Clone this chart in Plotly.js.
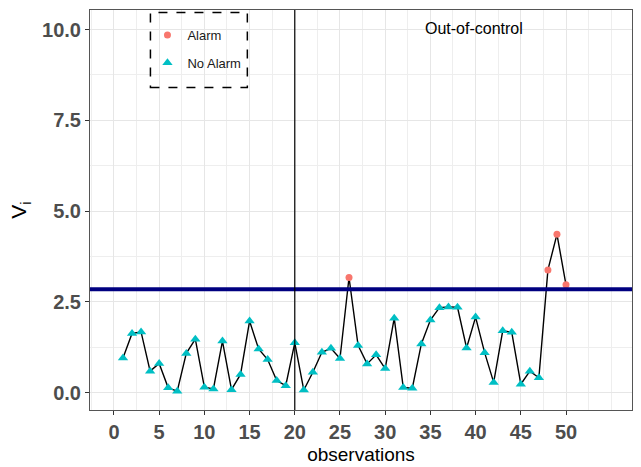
<!DOCTYPE html>
<html>
<head>
<meta charset="utf-8">
<script src="https://cdn.plot.ly/plotly-3.0.1.min.js"></script>
<style>html,body{margin:0;padding:0;background:#fff;}#chart{width:641px;height:467px;}</style>
</head>
<body>
<div id="chart"></div>
<script>
// Observation index
var observations = [1,2,3,4,5,6,7,8,9,10,11,12,13,14,15,16,17,18,19,20,
  21,22,23,24,25,26,27,28,29,30,31,32,33,34,35,36,37,38,39,40,
  41,42,43,44,45,46,47,48,49,50];
// Monitoring statistic V_i
var vValues = [0.95,1.63,1.67,0.59,0.80,0.13,0.04,1.08,1.47,0.15,
  0.10,1.42,0.08,0.50,1.97,1.20,0.91,0.33,0.19,1.37,
  0.07,0.56,1.11,1.22,0.94,3.17,1.30,0.79,1.04,0.66,
  2.05,0.14,0.12,1.34,2.00,2.34,2.36,2.35,1.23,2.08,
  1.10,0.28,1.70,1.66,0.23,0.59,0.41,3.38,4.36,2.97];
var controlLimit = 2.85;
var changePoint = 20;
var xTickVals = [0,5,10,15,20,25,30,35,40,45,50];
var yTickVals = [0,2.5,5,7.5,10];

var alarmX = [], alarmY = [], okX = [], okY = [];
for (var i = 0; i < observations.length; i++) {
  if (vValues[i] > controlLimit) { alarmX.push(observations[i]); alarmY.push(vValues[i]); }
  else { okX.push(observations[i]); okY.push(vValues[i]); }
}

var traces = [
  {x: observations, y: vValues, type: 'scatter', mode: 'lines',
   line: {color: '#000000', width: 1.4}, showlegend: false, hoverinfo: 'skip'},
  {x: alarmX, y: alarmY, type: 'scatter', mode: 'markers', name: 'Alarm',
   legendgroup: 'a', marker: {symbol: 'circle', size: 7, color: '#F8766D'}},
  {x: okX, y: okY, type: 'scatter', mode: 'markers', name: 'No Alarm',
   legendgroup: 'b', marker: {symbol: 'triangle-up', size: 9, color: '#00BFC4'}}
];

var tickFont = {family: 'Liberation Sans Narrow, Liberation Sans, Arial, sans-serif', size: 20, color: '#4d4d4d', weight: 'bold'};

var layout = {
  width: 641, height: 467,
  margin: {l: 90, r: 9, t: 10, b: 57},
  paper_bgcolor: '#ffffff', plot_bgcolor: '#ffffff',
  font: {family: 'Liberation Sans, Arial, sans-serif', color: '#000'},
  xaxis: {
    range: [-2.65, 57.3], tickvals: xTickVals, ticktext: xTickVals.map(String),
    showgrid: true, gridcolor: '#e6e6e6', gridwidth: 1,
    minor: {dtick: 2.5, tick0: 0, showgrid: true, gridcolor: '#eeeeee', gridwidth: 1, ticks: ''},
    zeroline: false, showline: true, mirror: true, linecolor: '#555555', linewidth: 1,
    ticks: 'outside', ticklen: 4, tickcolor: '#333333', tickwidth: 1,
    tickfont: tickFont,
    title: {text: 'observations', font: {family: 'Liberation Sans, Arial, sans-serif', size: 19, color: '#000'}, standoff: 5}
  },
  yaxis: {
    range: [-0.48, 10.54], tickvals: yTickVals, tickformat: '.1f',
    showgrid: true, gridcolor: '#e6e6e6', gridwidth: 1,
    minor: {dtick: 1.25, tick0: 0, showgrid: true, gridcolor: '#eeeeee', gridwidth: 1, ticks: ''},
    zeroline: false, showline: true, mirror: true, linecolor: '#555555', linewidth: 1,
    ticks: 'outside', ticklen: 4, tickcolor: '#333333', tickwidth: 1,
    tickfont: tickFont,
    title: {text: 'V<sub>i</sub>', font: {family: 'Liberation Sans, Arial, sans-serif', size: 21, color: '#000'}, standoff: 9}
  },
  legend: {
    x: 0.106, xanchor: 'left', y: 0.975, yanchor: 'top',
    bgcolor: 'rgba(0,0,0,0)', borderwidth: 0, tracegroupgap: 8,
    font: {family: 'Liberation Sans, Arial, sans-serif', size: 13, color: '#1a1a1a'}
  },
  shapes: [
    {type: 'line', xref: 'paper', yref: 'y', x0: 0, x1: 1, y0: controlLimit, y1: controlLimit,
     line: {color: '#000080', width: 4}},
    {type: 'line', xref: 'x', yref: 'paper', x0: changePoint, x1: changePoint, y0: 0, y1: 1,
     line: {color: '#000000', width: 1.2}},
    {type: 'rect', xref: 'paper', yref: 'paper', x0: 0.1115, x1: 0.2903, y0: 0.806, y1: 0.994,
     line: {color: '#000000', width: 1.5, dash: 'dash'}, fillcolor: 'rgba(0,0,0,0)'}
  ],
  annotations: [
    {x: 34.2, y: 10.04, xref: 'x', yref: 'y', xanchor: 'left', yanchor: 'middle',
     text: 'Out-of-control', showarrow: false,
     font: {family: 'Liberation Sans, Arial, sans-serif', size: 16, color: '#000'}}
  ]
};

Plotly.newPlot('chart', traces, layout, {displayModeBar: false, staticPlot: true});
</script>
</body>
</html>
